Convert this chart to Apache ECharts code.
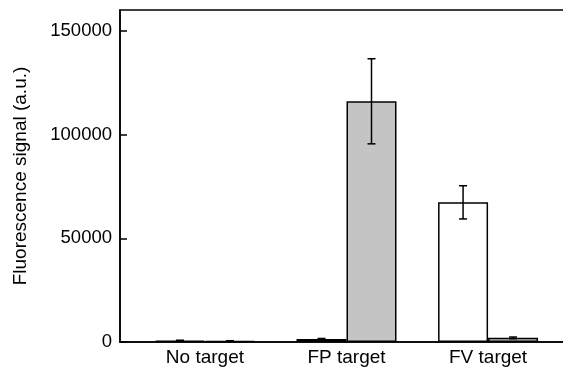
<!DOCTYPE html>
<html>
<head>
<meta charset="utf-8">
<script src="https://cdn.jsdelivr.net/npm/echarts@6/dist/echarts.min.js"></script>
<style>
html, body { margin: 0; padding: 0; background: #fff; }
#chart { width: 563px; height: 368px; }
</style>
</head>
<body>
<div id="chart"></div>
<script>
var categories = ['No target', 'FP target', 'FV target'];
var groupPos = [0.6, 1.6, 2.6];
var whiteVals = [700, 1400, 67300];
var whiteErr = [150, 300, 8000];
var grayVals = [500, 116000, 2000];
var grayErr = [120, 20500, 400];
var yTicks = [0, 50000, 100000, 150000];

var BAR_W = 50;
var font = 'Liberation Sans, Arial, sans-serif';

var chart = echarts.init(document.getElementById('chart'));

function pairs(vals) {
    return vals.map(function (v, i) { return [groupPos[i], v]; });
}

function errData(vals, errs) {
    return vals.map(function (v, i) { return [groupPos[i], v - errs[i], v + errs[i]]; });
}

// side: -1 left bar, +1 right bar
function errRender(side) {
    return function (params, api) {
        var lo = api.coord([api.value(0), api.value(1)]);
        var hi = api.coord([api.value(0), api.value(2)]);
        var x = lo[0] + side * BAR_W / 2;
        var cap = 4;
        var st = { stroke: '#000', lineWidth: 1.5 };
        return {
            type: 'group',
            children: [
                { type: 'line', shape: { x1: x, y1: lo[1], x2: x, y2: hi[1] }, style: st },
                { type: 'line', shape: { x1: x - cap, y1: hi[1], x2: x + cap, y2: hi[1] }, style: st },
                { type: 'line', shape: { x1: x - cap, y1: lo[1], x2: x + cap, y2: lo[1] }, style: st }
            ]
        };
    };
}

var option = {
    animation: false,
    backgroundColor: '#fff',
    // frame is wider than the canvas: its right side is cut off, as in the figure
    grid: {
        left: 120, width: 453, top: 10, bottom: 26,
        outerBoundsMode: 'none',
        show: true, borderColor: '#000', borderWidth: 1.5, backgroundColor: 'transparent'
    },
    xAxis: {
        type: 'value',
        min: 0,
        max: 3.2,
        axisLine: { lineStyle: { color: '#000', width: 1.5 } },
        axisTick: { show: false },
        splitLine: { show: false },
        axisLabel: {
            customValues: groupPos,
            formatter: function (v) {
                var i = groupPos.indexOf(v);
                return i >= 0 ? categories[i] : '';
            },
            color: '#000', fontFamily: font, fontSize: 19, margin: 6
        }
    },
    yAxis: {
        type: 'value',
        min: 0,
        max: 160000,
        interval: 50000,
        name: 'Fluorescence signal (a.u.)',
        nameLocation: 'middle',
        nameGap: 90,
        nameTextStyle: { color: '#000', fontFamily: font, fontSize: 19 },
        axisLine: { show: true, lineStyle: { color: '#000', width: 1.5 } },
        axisTick: { show: true, inside: true, length: 7, lineStyle: { color: '#000', width: 1.5 } },
        splitLine: { show: false },
        axisLabel: {
            showMaxLabel: false,
            color: '#000', fontFamily: font, fontSize: 18.5, margin: 8,
            formatter: function (v) { return yTicks.indexOf(v) >= 0 ? String(v) : ''; }
        }
    },
    series: [
        {
            type: 'bar',
            data: pairs(whiteVals),
            barWidth: BAR_W,
            barGap: '0%',
            itemStyle: { color: '#fff', borderColor: '#000', borderWidth: 1.5 }
        },
        {
            type: 'bar',
            data: pairs(grayVals),
            barWidth: BAR_W,
            barGap: '0%',
            itemStyle: { color: '#c4c4c4', borderColor: '#000', borderWidth: 1.5 }
        },
        {
            type: 'custom',
            renderItem: errRender(-1),
            data: errData(whiteVals, whiteErr),
            encode: { x: 0, y: [1, 2] },
            z: 5
        },
        {
            type: 'custom',
            renderItem: errRender(1),
            data: errData(grayVals, grayErr),
            encode: { x: 0, y: [1, 2] },
            z: 5
        }
    ]
};

chart.setOption(option);
</script>
</body>
</html>
